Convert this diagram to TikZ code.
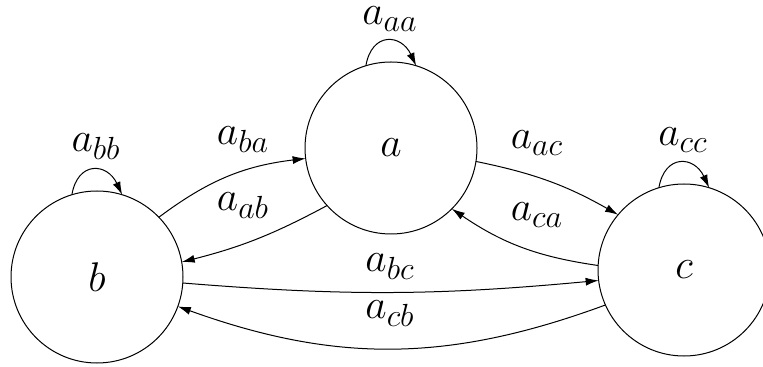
\documentclass[tikz,border=0pt]{standalone}
\usepackage{fix-cm}
\usetikzlibrary{arrows.meta}
\DeclareMathSizes{20.74}{20.74}{16}{11}
\begin{document}
\begin{tikzpicture}[x=0.5pt,y=-0.5pt,
  state/.style={circle,draw,line width=0.5pt,minimum size=86pt,inner sep=0pt,outer sep=0pt},
  edge/.style={line width=0.5pt,-{Latex[length=6.5pt,width=4pt]}},
  lbl/.style={inner sep=0pt},
  font=\huge]
\useasboundingbox (0,0) rectangle (763,367);
\node[state] (a) at (391,148) {$a$};
\node[state] (b) at (97,277) {$b$};
\node[state] (c) at (684,270) {$c$};
% loops (y axis is flipped, so polar angles are negated)
\draw[edge] (a.107) .. controls +(-80:35) and +(-115:35) .. (a.73);
\draw[edge] (b.107) .. controls +(-80:35) and +(-115:35) .. (b.73);
\draw[edge] (c.107) .. controls +(-80:35) and +(-115:35) .. (c.73);
% edges
\draw[edge] (b.44) to[bend left=15] (a.187);
\draw[edge] (a.222) to[bend left=7] (b.10);
\draw[edge] (a.-9) to[bend left=9] (c.140);
\draw[edge] (c.177) to[bend left=13] (a.-45);
\draw[edge] (b.-4) to[bend right=5] (c.187);
\draw[edge] (c.204) to[bend left=20] (b.-20);
% labels
\node[lbl] (laa) at (390,19) {$a_{aa}$};
\node[lbl] (lbb) at (96,147) {$a_{bb}$};
\node[lbl] (lcc) at (683,140) {$a_{cc}$};
\node[lbl] (lba) at (243,140) {$a_{ba}$};
\node[lbl] (lab) at (243,206) {$a_{ab}$};
\node[lbl] (lac) at (537,143) {$a_{ac}$};
\node[lbl] (lca) at (537,215) {$a_{ca}$};
\node[lbl] (lbc) at (390,267) {$a_{bc}$};
\node[lbl] (lcb) at (390,314) {$a_{cb}$};
\end{tikzpicture}
\end{document}
